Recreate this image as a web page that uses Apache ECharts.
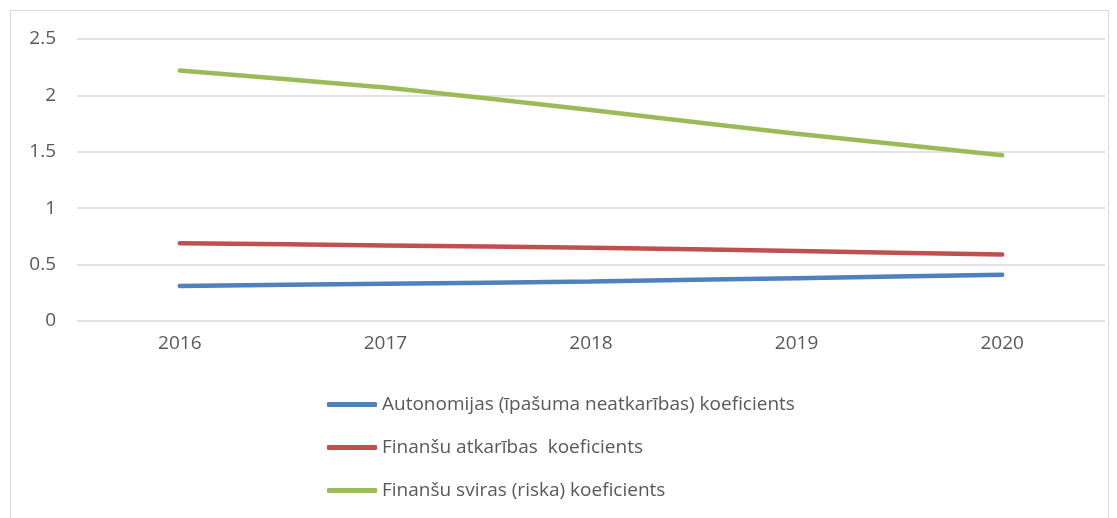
<!DOCTYPE html>
<html>
<head>
<meta charset="utf-8">
<script src="https://cdn.jsdelivr.net/npm/echarts@6/dist/echarts.min.js"></script>
<style>
  html, body { margin: 0; padding: 0; background: #fff; }
  #frame { position: absolute; left: 10px; top: 10px; width: 1097px; height: 520px; border: 1px solid #d9d9d9; }
  #chart { position: absolute; left: 0; top: 0; width: 1117px; height: 518px; }
</style>
</head>
<body>
<div id="frame"></div>
<div id="chart"></div>
<script>
var years = ['2016', '2017', '2018', '2019', '2020'];
var autonomija = [0.31, 0.33, 0.35, 0.38, 0.41];
var atkariba = [0.69, 0.67, 0.65, 0.62, 0.59];
var sviras = [2.22, 2.07, 1.87, 1.66, 1.47];
var seriesNames = [
    'Autonomijas (īpašuma neatkarības) koeficients',
    'Finanšu atkarības  koeficients',
    'Finanšu sviras (riska) koeficients'
];

var myChart = echarts.init(document.getElementById('chart'));
var font = '"Open Sans", "DejaVu Sans", sans-serif';

function lineSeries(name, data, color) {
    return {
        name: name,
        type: 'line',
        smooth: 0.2,
        symbol: 'none',
        data: data,
        color: color,
        lineStyle: { width: 4.5, color: color, cap: 'round' }
    };
}

myChart.setOption({
    animation: false,
    grid: { left: 77, right: 12, top: 39, bottom: 197 },
    legend: {
        orient: 'vertical',
        left: 322,
        top: 390,
        icon: 'roundRect',
        itemWidth: 50,
        itemHeight: 5,
        itemGap: 24,
        data: seriesNames,
        textStyle: { fontFamily: font, fontSize: 19, color: '#595959' }
    },
    xAxis: {
        type: 'category',
        data: years,
        boundaryGap: true,
        axisLine: { show: false },
        axisTick: { show: false },
        axisLabel: { fontFamily: font, fontSize: 19, color: '#595959', margin: 13 }
    },
    yAxis: {
        type: 'value',
        min: 0,
        max: 2.5,
        interval: 0.5,
        axisLine: { show: false },
        axisTick: { show: false },
        axisLabel: { fontFamily: font, fontSize: 19, color: '#595959', margin: 21 },
        splitLine: { lineStyle: { color: '#d9d9d9', width: 1.5 } }
    },
    series: [
        lineSeries(seriesNames[0], autonomija, '#4F81BD'),
        lineSeries(seriesNames[1], atkariba, '#C0504D'),
        lineSeries(seriesNames[2], sviras, '#9BBB59')
    ]
});
</script>
</body>
</html>
